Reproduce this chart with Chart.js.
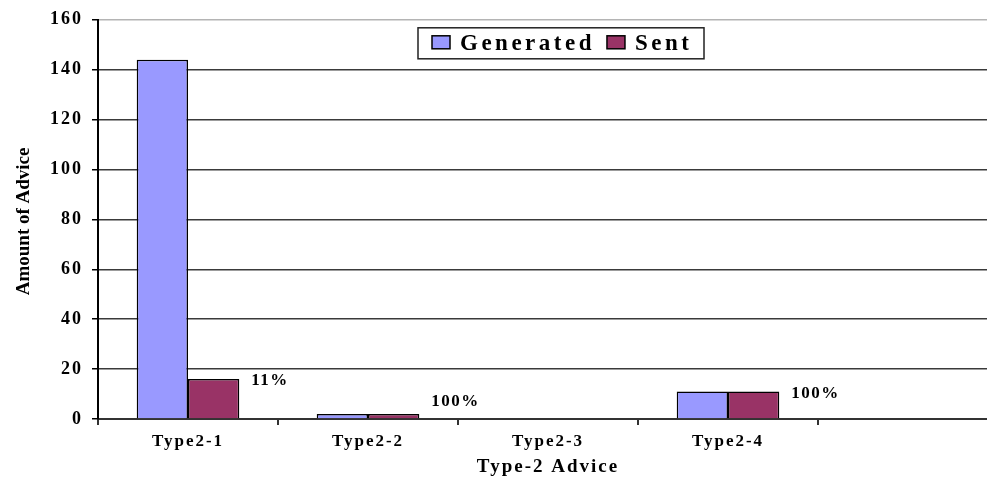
<!DOCTYPE html>
<html>
<head>
<meta charset="utf-8">
<script src="https://cdn.jsdelivr.net/npm/chart.js@4"></script>
<style>
  html, body { margin: 0; padding: 0; background: #fff; overflow: hidden; }
  #wrap { width: 1000px; height: 480px; }
</style>
</head>
<body>
<div id="wrap"><canvas id="c" width="1000" height="480"></canvas></div>
<script>
// Advice categories (the last slot is an empty, unlabeled category)
const categories = ['Type2-1', 'Type2-2', 'Type2-3', 'Type2-4', ''];
const generated = [144, 2, 0, 11, null];
const sent = [16, 2, 0, 11, null];
const yTicks = [0, 20, 40, 60, 80, 100, 120, 140, 160];
const yTitle = 'Amount of Advice';

const SERIF = '"Liberation Serif", "Times New Roman", serif';

// Widen axis text a little
const spacingPlugin = {
  id: 'spacing',
  beforeDraw(chart) { chart.ctx.letterSpacing = '2px'; },
  afterDraw(chart) { chart.ctx.letterSpacing = '0px'; }
};

// Vertical y-axis title, drawn beside the tick labels
const yTitlePlugin = {
  id: 'yTitle',
  afterDraw(chart) {
    const ctx = chart.ctx;
    const area = chart.chartArea;
    ctx.save();
    ctx.letterSpacing = '0px';
    ctx.translate(24, (area.top + area.bottom) / 2 + 2);
    ctx.rotate(-Math.PI / 2);
    ctx.font = 'bold 19px ' + SERIF;
    ctx.fillStyle = '#000';
    ctx.textAlign = 'center';
    ctx.textBaseline = 'middle';
    ctx.fillText(yTitle, 0, 0);
    ctx.restore();
  }
};

// "Sent as share of generated" labels to the right of each pair
const shareLabels = {
  id: 'shareLabels',
  afterDatasetsDraw(chart) {
    const ctx = chart.ctx;
    const meta = chart.getDatasetMeta(1);
    const base = chart.scales.y.getPixelForValue(0);
    ctx.save();
    ctx.letterSpacing = '1.5px';
    ctx.fillStyle = '#000';
    ctx.font = 'bold 17px ' + SERIF;
    ctx.textBaseline = 'middle';
    ctx.textAlign = 'left';
    meta.data.forEach((bar, i) => {
      const g = generated[i], s = sent[i];
      if (!g) return;
      const pct = Math.round(s / g * 100) + '%';
      const right = bar.x + bar.width / 2;
      const y = Math.min(bar.y + 2, base - 17);
      ctx.fillText(pct, right + 12, y);
    });
    ctx.restore();
  }
};

// Boxed legend inside the plot area
const boxLegend = {
  id: 'boxLegend',
  afterDraw(chart) {
    const ctx = chart.ctx;
    const area = chart.chartArea;
    const x0 = area.left + 320, y0 = area.top + 8;
    const w = 286, h = 31;
    ctx.save();
    ctx.fillStyle = '#fff';
    ctx.fillRect(x0, y0, w, h);
    ctx.strokeStyle = '#222';
    ctx.lineWidth = 1.5;
    ctx.strokeRect(x0, y0, w, h);
    ctx.font = 'bold 23px ' + SERIF;
    ctx.letterSpacing = '3.5px';
    ctx.textBaseline = 'middle';
    ctx.textAlign = 'left';
    let x = x0 + 14;
    chart.data.datasets.forEach((ds) => {
      ctx.fillStyle = ds.backgroundColor;
      ctx.fillRect(x, y0 + 8, 18, 13);
      ctx.strokeStyle = '#000';
      ctx.lineWidth = 1.5;
      ctx.strokeRect(x, y0 + 8, 18, 13);
      ctx.fillStyle = '#000';
      ctx.fillText(ds.label, x + 28, y0 + h / 2 + 1);
      x += 28 + ctx.measureText(ds.label).width + 12;
    });
    ctx.restore();
  }
};

new Chart(document.getElementById('c'), {
  type: 'bar',
  data: {
    labels: categories,
    datasets: [
      { label: 'Generated', data: generated, backgroundColor: '#9999FF', borderColor: '#000', borderWidth: 1.5 },
      { label: 'Sent', data: sent, backgroundColor: '#993366', borderColor: '#000', borderWidth: 1.5 }
    ]
  },
  options: {
    responsive: false,
    animation: false,
    layout: { padding: { left: 0, top: 16, right: 2, bottom: 0 } },
    datasets: { bar: { categoryPercentage: 0.57, barPercentage: 1.0 } },
    plugins: { legend: { display: false }, tooltip: { enabled: false } },
    scales: {
      x: {
        afterFit(scale) { scale.height = 61; },
        grid: { drawOnChartArea: false, drawTicks: true, tickLength: 6, color: '#333', lineWidth: 2 },
        border: { display: true, color: '#333', width: 2 },
        ticks: { color: '#000', font: { family: SERIF, size: 17, weight: 'bold' }, padding: 6, maxRotation: 0, autoSkip: false },
        title: { display: true, text: 'Type-2 Advice', color: '#000', font: { family: SERIF, size: 19, weight: 'bold' }, padding: { top: 0, bottom: 2 } }
      },
      y: {
        min: 0,
        max: 160,
        afterFit(scale) { scale.width = 98; },
        afterBuildTicks(scale) { scale.ticks = yTicks.map(v => ({ value: v })); },
        grid: {
          color: (c) => (c.tick && c.tick.value === 160 ? '#b4b4b4' : '#3a3a3a'),
          lineWidth: 1.5,
          tickColor: '#000',
          tickLength: 6
        },
        border: { display: true, color: '#000', width: 2 },
        ticks: { color: '#000', font: { family: SERIF, size: 18, weight: 'bold' }, padding: 9 }
      }
    }
  },
  plugins: [spacingPlugin, shareLabels, boxLegend, yTitlePlugin]
});
</script>
</body>
</html>
